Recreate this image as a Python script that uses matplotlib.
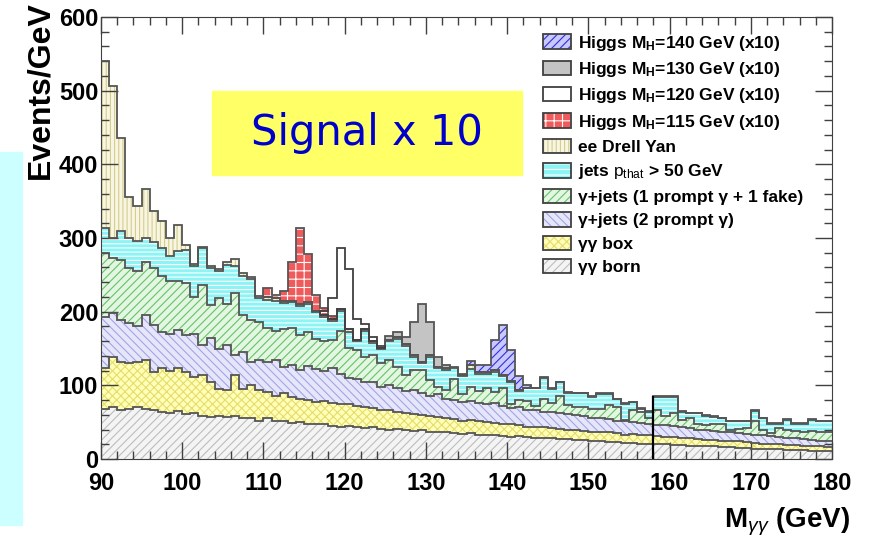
import numpy as np
import matplotlib
matplotlib.use('Agg')
import matplotlib.pyplot as plt
import matplotlib.patches as mpatches

plt.rcParams['font.family'] = ['Liberation Sans', 'DejaVu Sans']
plt.rcParams['mathtext.fontset'] = 'custom'
plt.rcParams['mathtext.rm'] = 'Liberation Sans'
plt.rcParams['mathtext.it'] = 'Liberation Sans:italic'
plt.rcParams['mathtext.bf'] = 'Liberation Sans:bold'
plt.rcParams['hatch.linewidth'] = 0.8

# 1 GeV bins from 90 to 180 GeV
edges = np.arange(90, 181, 1)

# backgrounds, events/GeV per bin (bottom of the stack first)
born = [68, 70, 66, 68, 70, 68, 66, 64, 63, 65,
        61, 62, 59, 57, 59, 57, 58, 55, 55, 52,
        55, 52, 51, 49, 50, 48, 47, 48, 45, 44,
        45, 43, 42, 44, 41, 40, 41, 39, 38, 39,
        37, 36, 37, 35, 34, 35, 33, 32, 33, 31,
        30, 31, 30, 29, 29, 28, 27, 27, 26, 26,
        24, 25, 23, 23, 22, 22, 21, 20, 21, 20,
        19, 19, 18, 18, 17, 17, 16, 16, 15, 15,
        14, 14, 13, 13, 12, 12, 12, 11, 11, 11]
box = [55, 69, 66, 62, 62, 66, 52, 59, 57, 58,
       57, 49, 55, 48, 36, 36, 56, 40, 45, 41,
       36, 34, 38, 35, 32, 32, 31, 31, 31, 30,
       30, 29, 28, 25, 25, 27, 23, 23, 23, 21,
       21, 21, 18, 19, 18, 18, 18, 18, 16, 17,
       17, 15, 14, 15, 14, 14, 14, 13, 13, 12,
       13, 12, 13, 12, 11, 12, 12, 12, 10, 10,
       11, 10, 10, 9, 9, 9, 9, 9, 9, 8,
       8, 7, 8, 7, 7, 7, 6, 6, 6, 5]
gjets_2prompt = [70, 59, 57, 54, 48, 61, 64, 50, 50, 52,
                 50, 59, 41, 59, 55, 62, 27, 50, 32, 41,
                 41, 48, 36, 44, 39, 46, 44, 41, 48, 42,
                 35, 36, 34, 36, 32, 34, 33, 30, 33, 30,
                 28, 31, 27, 26, 26, 26, 25, 24, 27, 24,
                 22, 24, 22, 23, 21, 22, 21, 21, 21, 20,
                 18, 18, 18, 17, 18, 16, 16, 15, 15, 16,
                 15, 15, 14, 13, 13, 12, 12, 11, 11, 11,
                 11, 11, 10, 10, 10, 9, 9, 9, 8, 8]
gjets_1fake = [87, 75, 81, 75, 75, 73, 77, 75, 71, 66,
               71, 50, 81, 45, 68, 56, 84, 50, 57, 52,
               46, 40, 51, 50, 48, 46, 41, 40, 38, 58,
               41, 40, 35, 36, 32, 34, 28, 22, 27, 31,
               21, 10, 12, 29, 10, 19, 16, 23, 15, 24,
               5, 10, 13, 5, 17, 12, 24, 12, 10, 12,
               13, 13, 19, 18, 2, 16, 15, 8, 20, 13,
               17, 9, 13, 8, 7, 9, 10, 4, 6, 8,
               18, 8, 4, 12, 11, 10, 10, 12, 11, 12]
jets = [34, 27, 39, 41, 41, 32, 36, 38, 34, 41,
        45, 42, 50, 50, 37, 53, 37, 53, 55, 32,
        38, 41, 36, 35, 39, 38, 36, 33, 26, 27,
        22, 12, 35, 17, 19, 25, 38, 40, 18, 9,
        32, 25, 27, 14, 24, 24, 23, 19, 27, 16,
        30, 12, 17, 24, 29, 19, 18, 17, 19, 19,
        16, 20, 15, 11, 22, 11, 4, 9, 18, 25,
        22, 11, 7, 14, 13, 10, 8, 11, 10, 9,
        14, 15, 13, 6, 13, 10, 11, 15, 15, 15]
drell_yan = [226, 207, 127, 55, 47, 66, 41, 37, 25, 36,
             7, 3, 2, 3, 3, 4, 9, 4, 3, 3,
             4, 3, 2, 2, 3, 3, 2, 2, 2, 2,
             3, 2, 3, 2, 2, 2, 2, 2, 2, 2,
             2, 2, 2, 2, 2, 6, 3, 2, 3, 2,
             2, 2, 1, 1, 1, 1, 1, 1, 1, 1,
             1, 1, 1, 1, 1, 1, 1, 1, 1, 1,
             1, 1, 1, 1, 1, 1, 1, 1, 1, 1,
             1, 1, 1, 1, 1, 1, 1, 1, 1, 1]

# Higgs signals (x10), first bin and values above the background
h115_start, h115 = 110, [12, 5, 14, 53, 102, 65, 22, 10, 4]
h120_start, h120 = 117, [6, 28, 84, 82, 28, 6, 6, 3]
h130_start, h130 = 125, [5, 8, 10, 45, 78, 45, 14, 5]
h140_start, h140 = 134, [2, 5, 10, 10, 40, 68, 42, 18, 3]

spike_x = 158  # stray black bin edge in the original plot

line_col = '#555555'

fig = plt.figure(figsize=(8.74, 5.40), dpi=100)
ax = fig.add_axes([101/874, 1-459/540, 731/874, 442/540])

# background stack: (values, face, hatch colour, hatch)
layers = [
    (born, '#F4F4F4', '#BDBDBD', '////'),
    (box, '#FFFFB8', '#E6DC6E', 'xxxx'),
    (gjets_2prompt, '#E6E6FA', '#A4A4E4', '\\\\\\\\'),
    (gjets_1fake, '#E2F6E2', '#66C266', '////'),
    (jets, '#8CF4F4', '#FFFFFF', '----'),
    (drell_yan, '#F8F6E2', '#D2CC8C', '||||'),
]

bottom = np.zeros(len(edges) - 1)
tops = []
for vals, face, hcol, hatch in layers:
    top = bottom + np.array(vals)
    ax.stairs(top, edges, baseline=bottom, fill=True, facecolor=face,
              edgecolor=hcol, hatch=hatch, linewidth=0, zorder=1)
    tops.append(top)
    bottom = top
for top in tops:
    ax.stairs(top, edges, baseline=None, color=line_col, lw=1.3, zorder=3)
bg = bottom

# signals drawn on top of the total background
signals = [
    (h115_start, h115, '#F05A5A', '#FFFFFF', '++', True),
    (h120_start, h120, 'none', 'none', None, False),
    (h130_start, h130, '#C4C4C4', '#FFFFFF', None, True),
    (h140_start, h140, '#C8C8FF', '#3030D0', '////', True),
]
for start, vals, face, hcol, hatch, filled in signals:
    i0 = start - 90
    i1 = i0 + len(vals)
    sig_top = bg[i0:i1] + np.array(vals)
    if filled:
        ax.stairs(sig_top, edges[i0:i1+1], baseline=bg[i0:i1], fill=True,
                  facecolor=face, edgecolor=hcol, hatch=hatch, linewidth=0, zorder=2)
    ax.stairs(sig_top, edges[i0:i1+1], baseline=bg[i0:i1], fill=False,
              color=line_col if filled else '#404040', lw=1.3, zorder=4)

ax.vlines(spike_x, 0, bg[spike_x - 90], color='black', lw=1.6, zorder=5)

ax.set_xlim(90, 180)
ax.set_ylim(0, 600)
ax.set_xticks(np.arange(90, 181, 10))
ax.set_xticks(np.arange(90, 181, 2), minor=True)
ax.set_yticks(np.arange(0, 601, 100))
ax.set_yticks(np.arange(0, 601, 20), minor=True)
ax.tick_params(which='both', direction='in', top=True, right=True, color='#404040')
ax.tick_params(which='major', length=12, width=1)
ax.tick_params(which='minor', length=6, width=1)
ax.tick_params(axis='x', pad=9)
ax.tick_params(axis='y', pad=2)
for lab in ax.get_xticklabels() + ax.get_yticklabels():
    lab.set_fontsize(17)
    lab.set_fontweight('bold')
for sp in ax.spines.values():
    sp.set_color('#404040')

# legend
legend_items = [
    ('#C8C8FF', '#3030D0', '////', r'Higgs M$_{\mathbf{H}}$=140 GeV (x10)'),
    ('#C4C4C4', '#FFFFFF', None, r'Higgs M$_{\mathbf{H}}$=130 GeV (x10)'),
    ('white', 'white', None, r'Higgs M$_{\mathbf{H}}$=120 GeV (x10)'),
    ('#F05A5A', '#FFFFFF', '++', r'Higgs M$_{\mathbf{H}}$=115 GeV (x10)'),
    ('#F8F6E2', '#D2CC8C', '||||', 'ee Drell Yan'),
    ('#8CF4F4', '#FFFFFF', '---', r'jets $\mathrm{p_{that}}$ > 50 GeV'),
    ('#E2F6E2', '#66C266', '////', 'γ+jets (1 prompt γ + 1 fake)'),
    ('#E6E6FA', '#A4A4E4', '\\\\\\\\', 'γ+jets (2 prompt γ)'),
    ('#FFFFB8', '#E6DC6E', 'xxxx', 'γγ box'),
    ('#F4F4F4', '#BDBDBD', '////', 'γγ born'),
]
handles = []
labels = []
for face, hcol, hatch, lab in legend_items:
    fill_p = mpatches.Patch(facecolor=face, edgecolor=hcol, hatch=hatch, linewidth=0)
    edge_p = mpatches.Patch(facecolor='none', edgecolor='#404040', linewidth=1.3)
    handles.append((fill_p, edge_p))
    labels.append(lab)
ax.legend(handles, labels, loc='upper left', bbox_to_anchor=(0.595, 0.978),
          frameon=False, prop={'size': 12.5, 'weight': 'bold'},
          handlelength=1.6, handleheight=0.9, handletextpad=0.4,
          labelspacing=0.42, borderaxespad=0)

# slide decorations
fig.patches.append(mpatches.Rectangle((0, 1-525/540), 22/874, 373/540,
                                      transform=fig.transFigure, color='#CCFFFF', zorder=0))
fig.patches.append(mpatches.Rectangle((212/874, 1-175/540), 310/874, 84/540,
                                      transform=fig.transFigure, color='#FFFF66', zorder=5))
fig.text(367/874, 1-133/540, 'Signal x 10', fontsize=30, color='#0000CC',
         family='DejaVu Sans', ha='center', va='center', zorder=6)

fig.text(40/874, 0.998, 'Events/GeV', rotation=90, ha='center', va='top',
         fontsize=23, fontweight='bold')
fig.text(850/874, 1-528/540, r'M$_{\gamma\gamma}$ (GeV)', ha='right', va='baseline',
         fontsize=20, fontweight='bold')

fig.savefig('out.png', dpi=100)
